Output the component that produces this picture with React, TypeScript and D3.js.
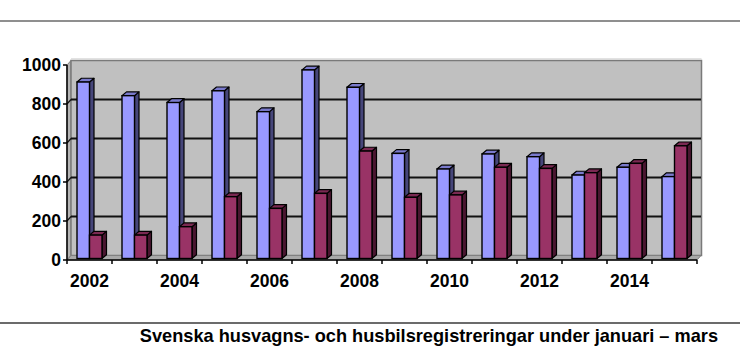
import React from "react";
import * as d3 from "d3";

const years = ["2002","2003","2004","2005","2006","2007","2008","2009","2010","2011","2012","2013","2014","2015"];
const husvagnar = [905, 835, 800, 860, 753, 967, 878, 539, 459, 536, 522, 428, 468, 420];
const husbilar = [120, 120, 163, 317, 257, 334, 551, 314, 326, 468, 462, 440, 488, 578];
const yTicks = [0, 200, 400, 600, 800, 1000];
const xLabelYears = ["2002","2004","2006","2008","2010","2012","2014"];
const seriesKeys = ["husvagnar", "husbilar"];
const title = "Svenska husvagns- och husbilsregistreringar under januari – mars";

const W = 740, H = 363;
const DX = 4, DY = -4.5; // wall depth offset
const BDX = 4.5, BDY = -3.8; // bar depth
const colors = {
  husvagnar: { front: "#9999FF", side: "#46467a", top: "#7a7acc" },
  husbilar: { front: "#993366", side: "#4a1630", top: "#7a2952" },
};
const font = "'Liberation Sans', Arial, Helvetica, sans-serif";

export default function App() {
  const x = d3.scaleBand<string>().domain(years).range([67, 697]).paddingInner(0).paddingOuter(0);
  const xs = d3.scaleBand<string>().domain(seriesKeys).range([0, x.bandwidth()]).paddingInner(0).paddingOuter(0.8);
  const y = d3.scaleLinear().domain([0, 1000]).range([260, 65]);
  const yBar = d3.scaleLinear().domain([0, 1000]).range([258.5, 63.5]);

  const x0 = 67, x1 = 697;
  const y0 = y(0), yTop = y(1000);
  const bw = xs.bandwidth();

  const bar = (key: string, xi: number, v: number, i: number) => {
    const c = (colors as any)[key];
    const l = xi, r = xi + bw, t = yBar(v), b = yBar(0);
    return (
      <g key={key + i}>
        <polygon points={`${r},${b} ${r + BDX},${b + BDY} ${r + BDX},${t + BDY} ${r},${t}`} fill={c.side} stroke="#000" strokeWidth={1.2} strokeLinejoin="round" />
        <polygon points={`${l},${t} ${l + BDX},${t + BDY} ${r + BDX},${t + BDY} ${r},${t}`} fill={c.top} stroke="#000" strokeWidth={1.2} strokeLinejoin="round" />
        <rect x={l} y={t} width={bw} height={b - t} fill={c.front} stroke="#000" strokeWidth={1.4} />
      </g>
    );
  };

  return (
    <svg width={W} height={H} style={{ position: "absolute", left: 0, top: 0, background: "#fff" }}>
      <line x1={0} x2={W} y1={21} y2={21} stroke="#8f8f8f" strokeWidth={2.2} />
      {/* side wall */}
      <polygon points={`${x0},${yTop} ${x0 + DX},${yTop + DY} ${x0 + DX},${y0 + DY} ${x0},${y0}`} fill="#b4b4b4" stroke="#808080" strokeWidth={1} />
      {/* back wall */}
      <rect x={x0 + DX} y={yTop + DY} width={x1 - x0 + 0.5} height={y0 - yTop} fill="#c0c0c0" stroke="#7a7a7a" strokeWidth={1.5} />
      <line x1={x0 + DX} x2={x1 + DX + 0.5} y1={yTop + DY - 1.5} y2={yTop + DY - 1.5} stroke="#d8d8d8" strokeWidth={1.5} />
      {/* floor */}
      <polygon points={`${x0},${y0} ${x0 + DX},${y0 + DY} ${x1 + DX},${y0 + DY} ${x1},${y0}`} fill="#a8a8a8" stroke="#808080" strokeWidth={1} />
      {/* gridlines */}
      {yTicks.filter(t => t > 0 && t < 1000).map(t => (
        <g key={"g" + t}>
          <line x1={x0 + DX} x2={x1 + DX} y1={y(t) + DY} y2={y(t) + DY} stroke="#111" strokeWidth={1.8} />
          <line x1={x0} x2={x0 + DX} y1={y(t)} y2={y(t) + DY} stroke="#111" strokeWidth={1.2} />
        </g>
      ))}
      {/* bars */}
      {years.map((yr, i) => {
        const bx = x(yr)!;
        return (
          <g key={yr}>
            {bar("husvagnar", bx + xs("husvagnar")!, husvagnar[i], i)}
            {bar("husbilar", bx + xs("husbilar")!, husbilar[i], i)}
          </g>
        );
      })}
      {/* axes */}
      <line x1={x0} x2={x0} y1={yTop} y2={y0} stroke="#000" strokeWidth={1.5} />
      {yTicks.map(t => (
        <g key={"yt" + t}>
          <line x1={x0 - 4} x2={x0} y1={y(t)} y2={y(t)} stroke="#000" strokeWidth={1.5} />
          <text x={61} y={y(t)} dy="0.35em" textAnchor="end" fontFamily={font} fontWeight="bold" fontSize={17.5} fill="#000">{t}</text>
        </g>
      ))}
      <line x1={x0} x2={x1} y1={y0} y2={y0} stroke="#000" strokeWidth={1.5} />
      {[...years.map(yr => x(yr)!), x1].map((tx, i) => (
        <line key={"xt" + i} x1={tx} x2={tx} y1={y0} y2={y0 + 4} stroke="#000" strokeWidth={1.5} />
      ))}
      {xLabelYears.map(yr => (
        <text key={"xl" + yr} x={x(yr)! + x.bandwidth() / 2} y={281} dy="0.35em" textAnchor="middle" fontFamily={font} fontWeight="bold" fontSize={17.5} fill="#000">{yr}</text>
      ))}
      <line x1={0} x2={W} y1={323} y2={323} stroke="#3a3a3a" strokeWidth={1.5} />
      <text x={718} y={336} dy="0.35em" textAnchor="end" fontFamily={font} fontWeight="bold" fontSize={18.2} fill="#000">{title}</text>
    </svg>
  );
}
